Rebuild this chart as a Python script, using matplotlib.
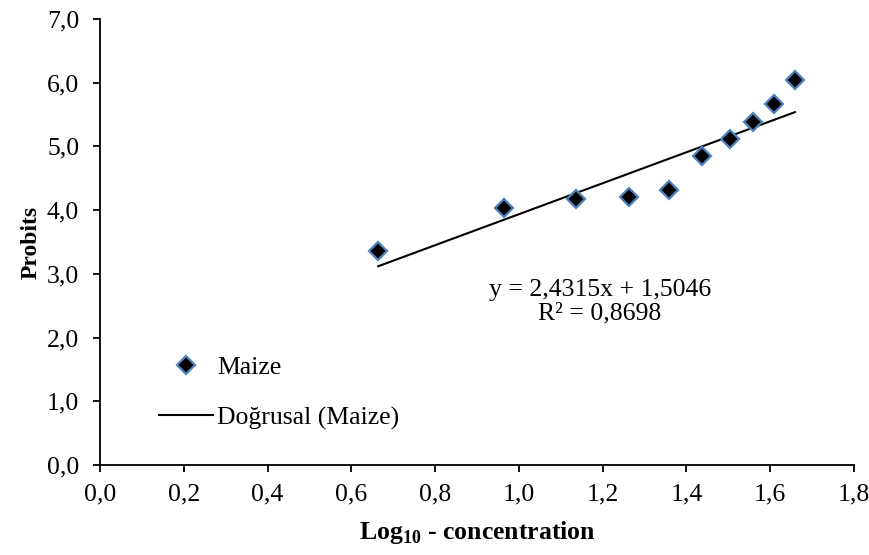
import matplotlib
matplotlib.use("Agg")
import matplotlib.pyplot as plt
import numpy as np
from matplotlib.ticker import FuncFormatter, MultipleLocator

# Data
log_conc = [0.664, 0.964, 1.137, 1.263, 1.358, 1.436, 1.503, 1.560, 1.609, 1.659]
probits = [3.36, 4.03, 4.17, 4.21, 4.31, 4.85, 5.11, 5.38, 5.67, 6.04]
series_name = "Maize"
trend_name = "Doğrusal (Maize)"
slope = 2.4315
intercept = 1.5046
eq_text = "y = 2,4315x + 1,5046\nR² = 0,8698"

plt.rcParams['font.family'] = ['Liberation Serif', 'DejaVu Serif']
plt.rcParams['mathtext.fontset'] = 'custom'
plt.rcParams['mathtext.rm'] = 'Liberation Serif'
plt.rcParams['mathtext.bf'] = 'Liberation Serif:bold'

FS = 18.5

fig = plt.figure(figsize=(8.7, 5.55), dpi=100)
ax = fig.add_axes([100/870, 1-465/555, (854-100)/870, (465-19)/555])

ax.plot(log_conc, probits, linestyle='none', marker='D', markersize=9.5,
        markerfacecolor='black', markeredgecolor='#4f81bd', markeredgewidth=1.6,
        label=series_name, zorder=3)
xs = np.array([min(log_conc), max(log_conc)])
ax.plot(xs, slope*xs + intercept, color='black', linewidth=1.5, label=trend_name, zorder=2)

ax.set_xlim(0, 1.8)
ax.set_ylim(0, 7)
ax.xaxis.set_major_locator(MultipleLocator(0.2))
ax.yaxis.set_major_locator(MultipleLocator(1.0))
fmt = FuncFormatter(lambda v, p: f"{v:.1f}".replace('.', ','))
ax.xaxis.set_major_formatter(fmt)
ax.yaxis.set_major_formatter(fmt)

for s in ['top', 'right']:
    ax.spines[s].set_visible(False)
for s in ['left', 'bottom']:
    ax.spines[s].set_linewidth(1.3)
ax.tick_params(direction='out', length=5, width=1.3, labelsize=FS, colors='black')
ax.tick_params(axis='y', pad=10)
ax.tick_params(axis='x', pad=8)

ax.set_xlabel(r"Log$_{\mathbf{10}}$ - concentration", fontsize=FS, fontweight='bold', labelpad=10)
ax.set_ylabel("Probits", fontsize=17, fontweight='bold', labelpad=4)

ax.text(600/870, 1-302/555, eq_text, transform=fig.transFigure, ha='center', va='center',
        fontsize=FS, linespacing=1.1, multialignment='center')

ax.legend(loc='center left', bbox_to_anchor=(159/870, 1-393/555), bbox_transform=fig.transFigure,
          frameon=False, fontsize=FS, labelspacing=1.05, handlelength=2.1, handletextpad=0.15,
          borderpad=0, borderaxespad=0)

fig.savefig("out.png", dpi=100)
